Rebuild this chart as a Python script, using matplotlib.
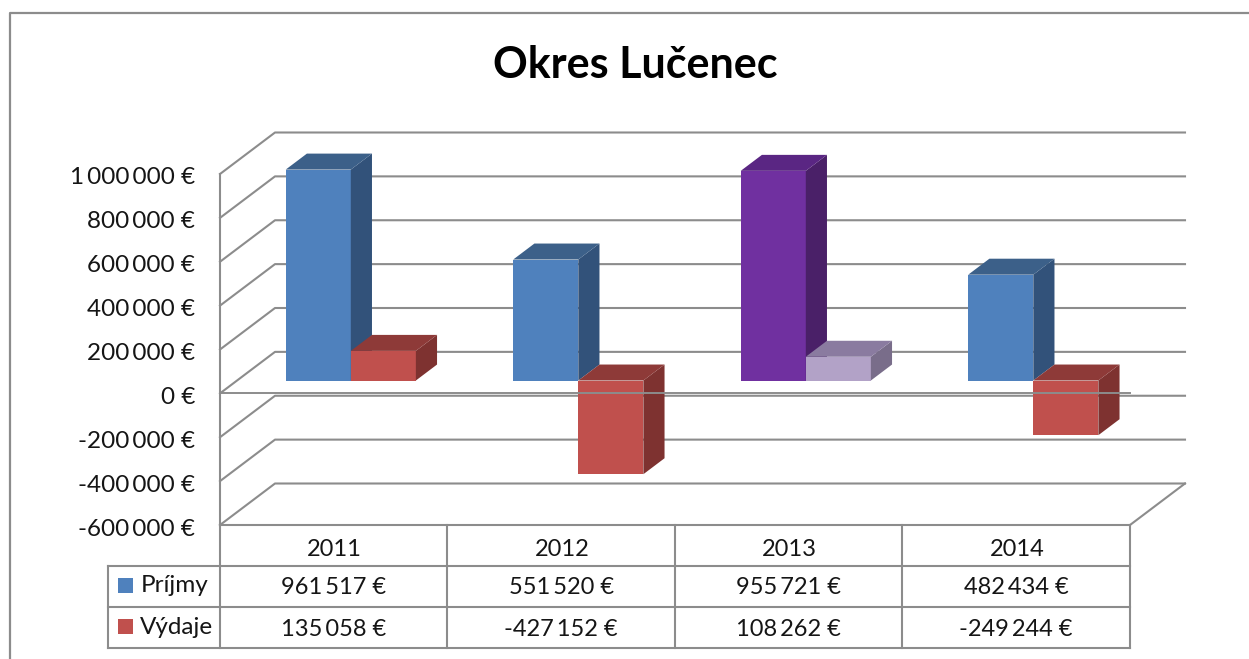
import matplotlib
matplotlib.use('Agg')
import matplotlib.pyplot as plt
from matplotlib.transforms import ScaledTranslation

years = ['2011', '2012', '2013', '2014']
prijmy = [961517, 551520, 955721, 482434]
vydaje = [135058, -427152, 108262, -249244]
yticks = [1000000, 800000, 600000, 400000, 200000, 0, -200000, -400000, -600000]

# front, side, top
blue = ('#4f81bd', '#32527a', '#3c6089')
red = ('#c0504d', '#7e3230', '#8e3a38')
purple = ('#7030a0', '#4a2068', '#5a2683')
lilac = ('#b2a2c7', '#796d8a', '#8a7ba0')
colors_prijmy = [blue, blue, purple, blue]
colors_vydaje = [red, red, lilac, red]

W, H = 1249, 659
GRAY = '#8c8c8c'
TXT = '#151515'

plt.rcParams['font.family'] = ['Lato', 'DejaVu Sans']


def euro(v):
    return f'{v:,}'.replace(',', '\u2009') + ' €'


fig = plt.figure(figsize=(W / 100, H / 100), dpi=100, facecolor='white')

# overlay in pixels for the frame, title and table
bg = fig.add_axes([0, 0, 1, 1])
bg.set_xlim(0, W)
bg.set_ylim(H, 0)
bg.axis('off')

# the chart itself, its axes box is the front plane of the 3d box
ax = fig.add_axes([220 / W, 1 - 525 / H, 910 / W, 351 / H])
ax.set_xlim(-0.5, 3.5)
ax.set_ylim(-600000, 1000000)
ax.patch.set_alpha(0)

depth_x = 55 / 227.5
depth_y = 41.5 / 351 * 1600000


def proj(x, v, d):
    return x + d * depth_x, v + d * depth_y


lw = 1.5
# walls
for t in yticks:
    x0, y0 = proj(-0.5, t, 0)
    x1, y1 = proj(-0.5, t, 1)
    x2, y2 = proj(3.5, t, 1)
    ax.plot([x0, x1, x2], [y0, y1, y2], color=GRAY, lw=lw, clip_on=False, zorder=1)
x1, y1 = proj(3.5, -600000, 0)
x2, y2 = proj(3.5, -600000, 1)
ax.plot([x1, x2], [y1, y2], color=GRAY, lw=lw, clip_on=False, zorder=1)

ax.set_yticks(yticks)
ax.set_yticklabels([euro(t) for t in yticks], fontsize=17.5, color=TXT)
ax.tick_params(axis='y', length=0, pad=18)
# labels sit a little lower than the tick position
down = ScaledTranslation(0, -2 / 100, fig.dpi_scale_trans)
for lab in ax.get_yticklabels():
    lab.set_transform(lab.get_transform() + down)
ax.set_xticks([])
for s in ['top', 'right']:
    ax.spines[s].set_visible(False)
for s in ['left', 'bottom']:
    ax.spines[s].set_color(GRAY)
    ax.spines[s].set_linewidth(lw)

bar_w = 0.286
d0, d1 = 0.31, 0.695


def draw_bar(x, v, cols, z):
    top = max(v, 0)
    low = min(v, 0)
    xf, bf = proj(x - bar_w / 2, 0, d0)
    ax.bar(xf, v, bar_w, bottom=bf, align='edge', color=cols[0], zorder=z, clip_on=False)
    a = proj(x + bar_w / 2, top, d0)
    b = proj(x + bar_w / 2, top, d1)
    c = proj(x + bar_w / 2, low, d1)
    e = proj(x + bar_w / 2, low, d0)
    ax.fill(*zip(a, b, c, e), color=cols[1], lw=0, zorder=z, clip_on=False)
    a = proj(x - bar_w / 2, top, d0)
    b = proj(x - bar_w / 2, top, d1)
    c = proj(x + bar_w / 2, top, d1)
    e = proj(x + bar_w / 2, top, d0)
    ax.fill(*zip(a, b, c, e), color=cols[2], lw=0, zorder=z, clip_on=False)


for i in range(4):
    draw_bar(i - bar_w / 2, prijmy[i], colors_prijmy[i], 3 + i * 2)
    draw_bar(i + bar_w / 2, vydaje[i], colors_vydaje[i], 4 + i * 2)

# zero line in the front plane
ax.plot([-0.5, 3.5], [0, 0], color=GRAY, lw=1.4, clip_on=False, zorder=20)

# frame and title
bg.plot([10.5, 10.5, W], [H, 12.5, 12.5], color=GRAY, lw=1.6)
bg.text(635, 65, 'Okres Lučenec', ha='center', va='center', fontsize=31, fontweight='bold', color='black')

# data table
col_x = [220, 447.5, 675, 902.5, 1130]
bg.plot([220, 220], [525, 648], color=GRAY, lw=lw)
for x in col_x[1:]:
    bg.plot([x, x], [525, 648], color=GRAY, lw=lw)
bg.plot([108.5, 1130], [566, 566], color=GRAY, lw=lw)
bg.plot([108.5, 1130], [606.5, 606.5], color=GRAY, lw=lw)
bg.plot([108.5, 1130], [648, 648], color=GRAY, lw=lw)
bg.plot([108.5, 108.5], [566, 648], color=GRAY, lw=lw)

for i in range(4):
    cx = (col_x[i] + col_x[i + 1]) / 2
    bg.text(cx + 1, 550, years[i], ha='center', va='center', fontsize=17, color=TXT)
    bg.text(cx, 588, euro(prijmy[i]), ha='center', va='center', fontsize=17, color=TXT)
    bg.text(cx, 630, euro(vydaje[i]), ha='center', va='center', fontsize=17, color=TXT)

bg.fill([118, 133, 133, 118], [578, 578, 593, 593], color=blue[0], lw=0)
bg.fill([118, 133, 133, 118], [619, 619, 634, 634], color=red[0], lw=0)
bg.text(141, 586, 'Príjmy', ha='left', va='center', fontsize=17.5, color=TXT)
bg.text(140, 627, 'Výdaje', ha='left', va='center', fontsize=17.5, color=TXT)

fig.savefig('out.png', dpi=100)
